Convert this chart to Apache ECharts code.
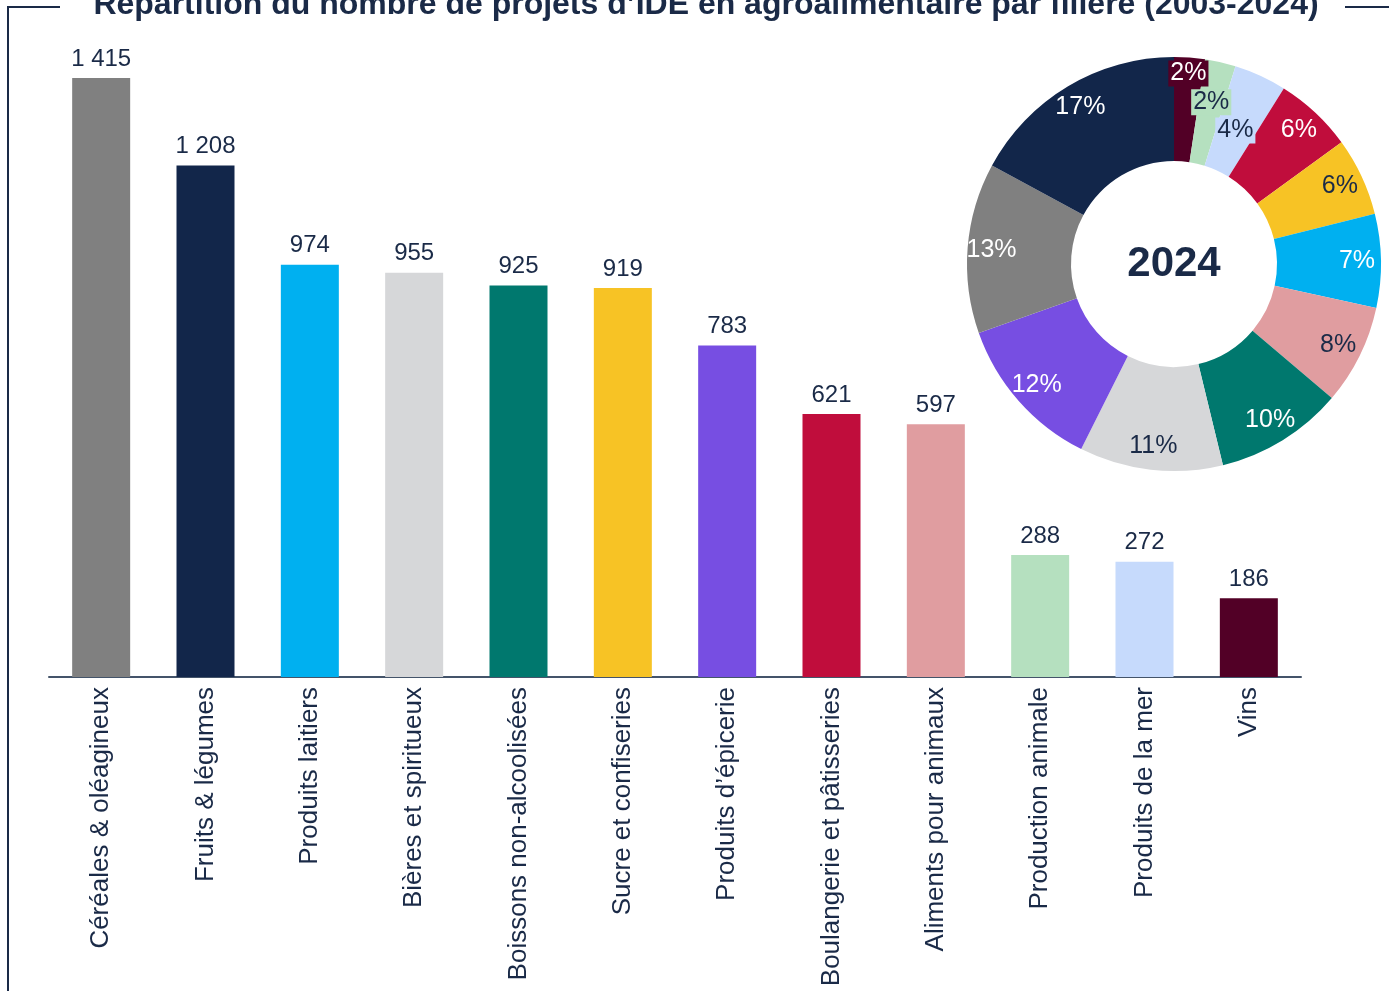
<!DOCTYPE html>
<html>
<head>
<meta charset="utf-8">
<script src="https://cdn.jsdelivr.net/npm/echarts@6/dist/echarts.min.js"></script>
<style>
  html, body { margin: 0; padding: 0; background: #fff; }
  #chart { width: 1389px; height: 991px; }
</style>
</head>
<body>
<div id="chart"></div>
<script>
// filières, nombre de projets 2003-2024
const categories = ['Céréales & oléagineux', 'Fruits & légumes', 'Produits laitiers', 'Bières et spiritueux',
  'Boissons non-alcoolisées', 'Sucre et confiseries', 'Produits d\u2019épicerie', 'Boulangerie et pâtisseries',
  'Aliments pour animaux', 'Production animale', 'Produits de la mer', 'Vins'];
const projets = [1415, 1208, 974, 955, 925, 919, 783, 621, 597, 288, 272, 186];
const colors = ['#808080', '#12264a', '#00b0f0', '#d6d7d9', '#00786e', '#f7c325', '#774ee2', '#c00d3c',
  '#e09da0', '#b5e0bf', '#c6dafc', '#520026'];

// répartition 2024 (%), ordre du donut
const pieNames = ['Vins', 'Production animale', 'Produits de la mer', 'Boulangerie et pâtisseries',
  'Sucre et confiseries', 'Produits laitiers', 'Aliments pour animaux', 'Boissons non-alcoolisées',
  'Bières et spiritueux', 'Produits d\u2019épicerie', 'Céréales & oléagineux', 'Fruits & légumes'];
const pieShares = [2.4, 2.4, 4.1, 6.1, 6.1, 7.3, 7.8, 10.0, 11.2, 12.2, 13.3, 17.1];

const navy = '#1a2a47';
const font = "'Liberation Sans', Arial, sans-serif";
const darkText = ['Production animale', 'Produits de la mer', 'Sucre et confiseries', 'Aliments pour animaux', 'Bières et spiritueux'];
const colorOf = name => colors[categories.indexOf(name)];

const center = [1174, 264];

function labelRing (r0, r1, shown, boxed) {
  return {
    type: 'pie',
    silent: true,
    center: center,
    radius: [r0, r1],
    data: pieNames.map((n, i) => ({
      name: n,
      value: pieShares[i],
      itemStyle: { color: 'rgba(0,0,0,0)' },
      label: {
        show: shown.indexOf(n) >= 0,
        color: darkText.indexOf(n) >= 0 ? navy : '#fff',
        backgroundColor: boxed ? colorOf(n) : 'transparent',
        padding: boxed ? [1, 2, 0, 2] : 0
      }
    })),
    label: {
      position: 'inside',
      fontFamily: font,
      fontSize: 25,
      formatter: p => Math.round(p.value) + '%'
    },
    labelLine: { show: false }
  };
}

const chart = echarts.init(document.getElementById('chart'));
chart.setOption({
  animation: false,
  textStyle: { fontFamily: font },
  grid: { left: 49, right: 88, top: 42, bottom: 314 },
  xAxis: {
    type: 'category',
    data: categories,
    axisLine: { lineStyle: { color: '#44546a', width: 2 } },
    axisTick: { show: false },
    axisLabel: { rotate: 90, margin: 10, fontSize: 26, color: navy, fontFamily: font }
  },
  yAxis: {
    type: 'value',
    min: 0,
    max: 1500,
    show: false,
    splitLine: { show: false }
  },
  graphic: [
    {
      type: 'text',
      x: 706,
      y: 5,
      style: {
        text: 'Répartition du nombre de projets d\u2019IDE en agroalimentaire par filière (2003-2024)',
        fill: navy,
        font: "bold 32px 'Liberation Sans', Arial, sans-serif",
        textAlign: 'center',
        textVerticalAlign: 'middle'
      }
    },
    {
      type: 'polyline',
      shape: { points: [[60, 7], [8, 7], [8, 991]] },
      style: { stroke: navy, lineWidth: 2, fill: null }
    },
    {
      type: 'line',
      shape: { x1: 1345, y1: 7, x2: 1389, y2: 7 },
      style: { stroke: navy, lineWidth: 2 }
    },
    {
      type: 'text',
      x: center[0],
      y: center[1],
      z: 100,
      style: {
        text: '2024',
        fill: navy,
        font: "bold 42px 'Liberation Sans', Arial, sans-serif",
        textAlign: 'center',
        textVerticalAlign: 'middle'
      }
    }
  ],
  series: [
    {
      type: 'bar',
      barWidth: 58,
      data: projets.map((v, i) => ({ value: v, itemStyle: { color: colors[i] } })),
      label: {
        show: true,
        position: 'top',
        distance: 7,
        fontSize: 24,
        color: navy,
        fontFamily: font,
        formatter: p => String(p.value).replace(/\B(?=(\d{3})+(?!\d))/g, ' ')
      }
    },
    {
      type: 'pie',
      center: center,
      radius: [103, 207],
      startAngle: 90,
      data: pieNames.map((n, i) => ({ name: n, value: pieShares[i], itemStyle: { color: colorOf(n) } })),
      label: { show: false },
      labelLine: { show: false }
    },
    labelRing(160, 200, pieNames.slice(3), false),
    labelRing(178, 198, ['Vins'], true),
    labelRing(153, 173, ['Production animale'], true),
    labelRing(134, 154, ['Produits de la mer'], true)
  ]
});
</script>
</body>
</html>
